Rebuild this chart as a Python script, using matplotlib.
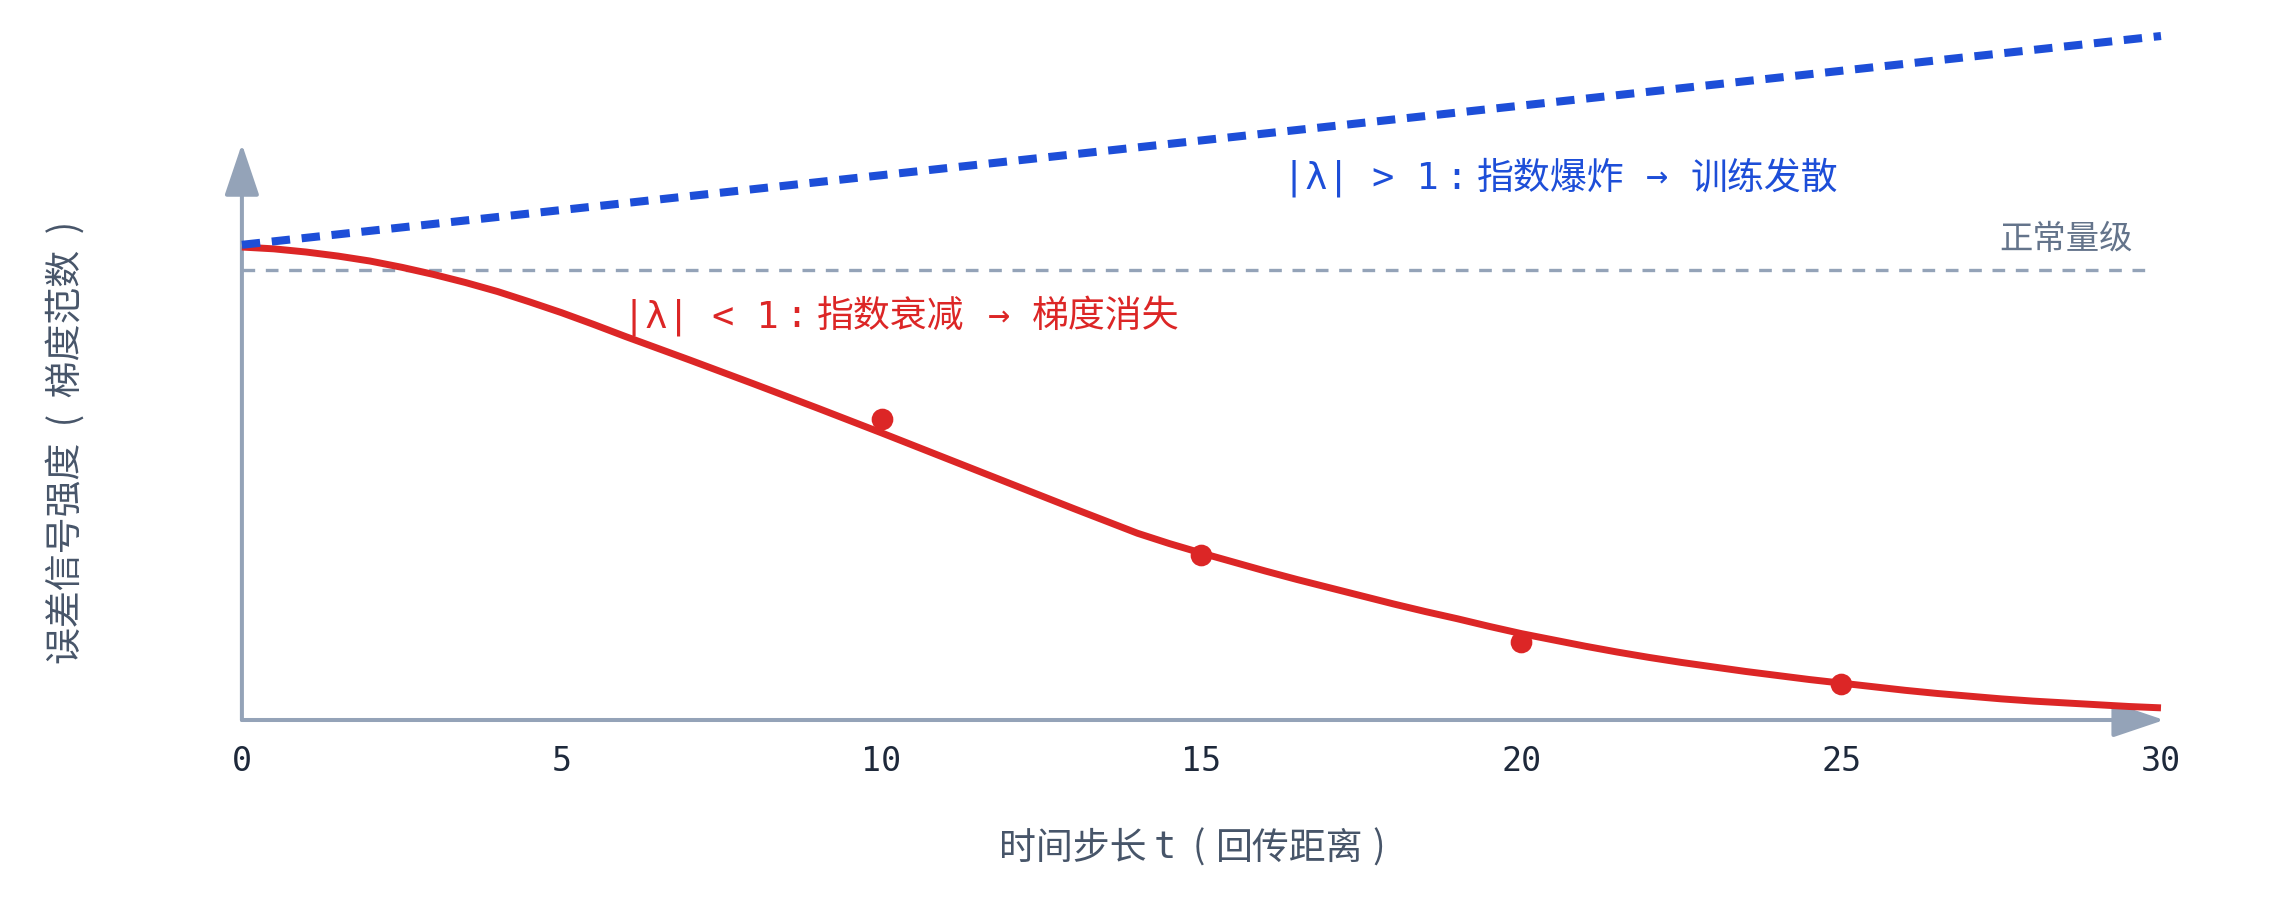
"""RNN 梯度随时间步的变化示意图：|λ|<1 衰减，|λ|>1 爆炸。"""
import matplotlib
matplotlib.use("Agg")
import matplotlib.pyplot as plt
from matplotlib.offsetbox import TextArea, HPacker, AnnotationBbox, DrawingArea

# 数据
t_curve = [0, 0.5, 1, 1.5, 2, 2.5, 3, 3.5, 4, 4.5, 5, 5.5, 6, 7, 8, 9, 10, 11, 12, 13,
           14, 14.5, 15, 15.5, 16, 16.5, 17, 17.5, 18, 18.5, 19, 19.5, 20, 20.5, 21,
           21.5, 22, 22.5, 23, 23.5, 24, 24.5, 25, 25.5, 26, 26.5, 27, 27.5, 28, 28.5,
           29, 29.5, 30]
vanish_curve = [1.051, 1.047, 1.040, 1.031, 1.020, 1.006, 0.990, 0.972, 0.952, 0.929,
                0.905, 0.879, 0.852, 0.800, 0.747, 0.693, 0.638, 0.582, 0.526, 0.470,
                0.415, 0.392, 0.371, 0.351, 0.331, 0.312, 0.294, 0.276, 0.258, 0.241,
                0.225, 0.208, 0.192, 0.178, 0.164, 0.151, 0.139, 0.128, 0.118, 0.108,
                0.099, 0.090, 0.082, 0.074, 0.066, 0.059, 0.053, 0.047, 0.042, 0.038,
                0.034, 0.030, 0.027]
t_dots = [10, 15, 20, 25]
vanish_dots = [0.669, 0.367, 0.173, 0.080]
t_explode = [0, 30]
explode_line = [1.056, 1.52]
normal_level = 1.0
xticks = [0, 5, 10, 15, 20, 25, 30]

BLUE = "#1d4ed8"
RED = "#dc2626"
AXIS = "#94a3b8"
LABEL = "#475569"
MONO = "DejaVu Sans Mono"
CJK = "Noto Sans CJK SC"

plt.rcParams["font.family"] = [MONO, CJK]


def mixed_text(parts, xy, coords, align, fontsize, color, ax_or_fig):
    """几段不同字体的文字横向拼接；数字项表示留白（pt）。"""
    kids = []
    for p in parts:
        if isinstance(p, (int, float)):
            kids.append(DrawingArea(p, 1))
        else:
            s, fam = p
            kids.append(TextArea(s, textprops=dict(family=[fam], fontsize=fontsize,
                                                   color=color)))
    box = HPacker(children=kids, align="baseline", pad=0, sep=0)
    ab = AnnotationBbox(box, xy, xycoords=coords, box_alignment=align,
                        frameon=False, pad=0, annotation_clip=False)
    ax_or_fig.add_artist(ab)


fig = plt.figure(figsize=(11.4, 4.5), dpi=200)
ax = fig.add_axes([0.1061, 0.2, 0.8417, 0.65])
ax.set_xlim(0, 30)
ax.set_ylim(0, 1.3)
for s in ax.spines.values():
    s.set_visible(False)
ax.set_yticks([])
ax.set_xticks(xticks)
ax.set_xticklabels([str(v) for v in xticks], fontsize=12, color="#1e293b")
ax.tick_params(axis="x", length=0, pad=9)

# 正常量级参考线
ax.plot([0, 29.9], [normal_level, normal_level], color=AXIS, lw=1.2,
        linestyle=(0, (3.8, 3.2)), zorder=1)
ax.text(29.56, 1.067, "正常量级", ha="right", va="center", fontsize=12,
        color="#64748b", family=[CJK])

# 坐标轴箭头
arrow = dict(arrowstyle="-|>,head_length=0.8,head_width=0.27", color=AXIS,
             lw=1.45, shrinkA=0, shrinkB=0, mutation_scale=20)
ax.annotate("", xy=(30.05, 0), xytext=(0, 0), arrowprops=arrow,
            annotation_clip=False, zorder=2)
ax.annotate("", xy=(0, 1.28), xytext=(0, 0), arrowprops=arrow,
            annotation_clip=False, zorder=2)

# 衰减曲线
ax.plot(t_curve, vanish_curve, color=RED, lw=2.5, solid_capstyle="butt",
        solid_joinstyle="round", zorder=3, clip_on=False)
ax.plot(t_dots, vanish_dots, "o", color=RED, ms=6.8, zorder=4)

# 爆炸直线
ax.plot(t_explode, explode_line, color=BLUE, lw=2.9,
        linestyle=(0, (2.28, 1.45)), zorder=5, clip_on=False)

mixed_text([("|λ| > 1", MONO), 2.6, (":", MONO), 3.3, ("指数爆炸", CJK), 7.8,
            ("→", MONO), 7.8, ("训练发散", CJK)],
           (16.27, 1.204), "data", (0, 0.5), 13.3, BLUE, ax)
mixed_text([("|λ| < 1", MONO), 2.4, (":", MONO), 3.4, ("指数衰减", CJK), 8.2,
            ("→", MONO), 7.9, ("梯度消失", CJK)],
           (5.96, 0.896), "data", (0, 0.5), 13.3, RED, ax)

mixed_text([("时间步长", CJK), 2.5, ("t", MONO), 6.0, ("(", CJK), 3.9,
            ("回传距离", CJK), 3.4, (")", CJK)],
           (1192 / 2280, 1 - 848 / 900), "figure fraction", (0.5, 0.5), 13.3,
           LABEL, fig)
fig.text(66 / 2280, 1 - 442 / 900, "误差信号强度  (  梯度范数  )", ha="center",
         va="center", rotation=90, fontsize=13.3, color=LABEL, family=[CJK])

fig.savefig("out.png", dpi=200)
